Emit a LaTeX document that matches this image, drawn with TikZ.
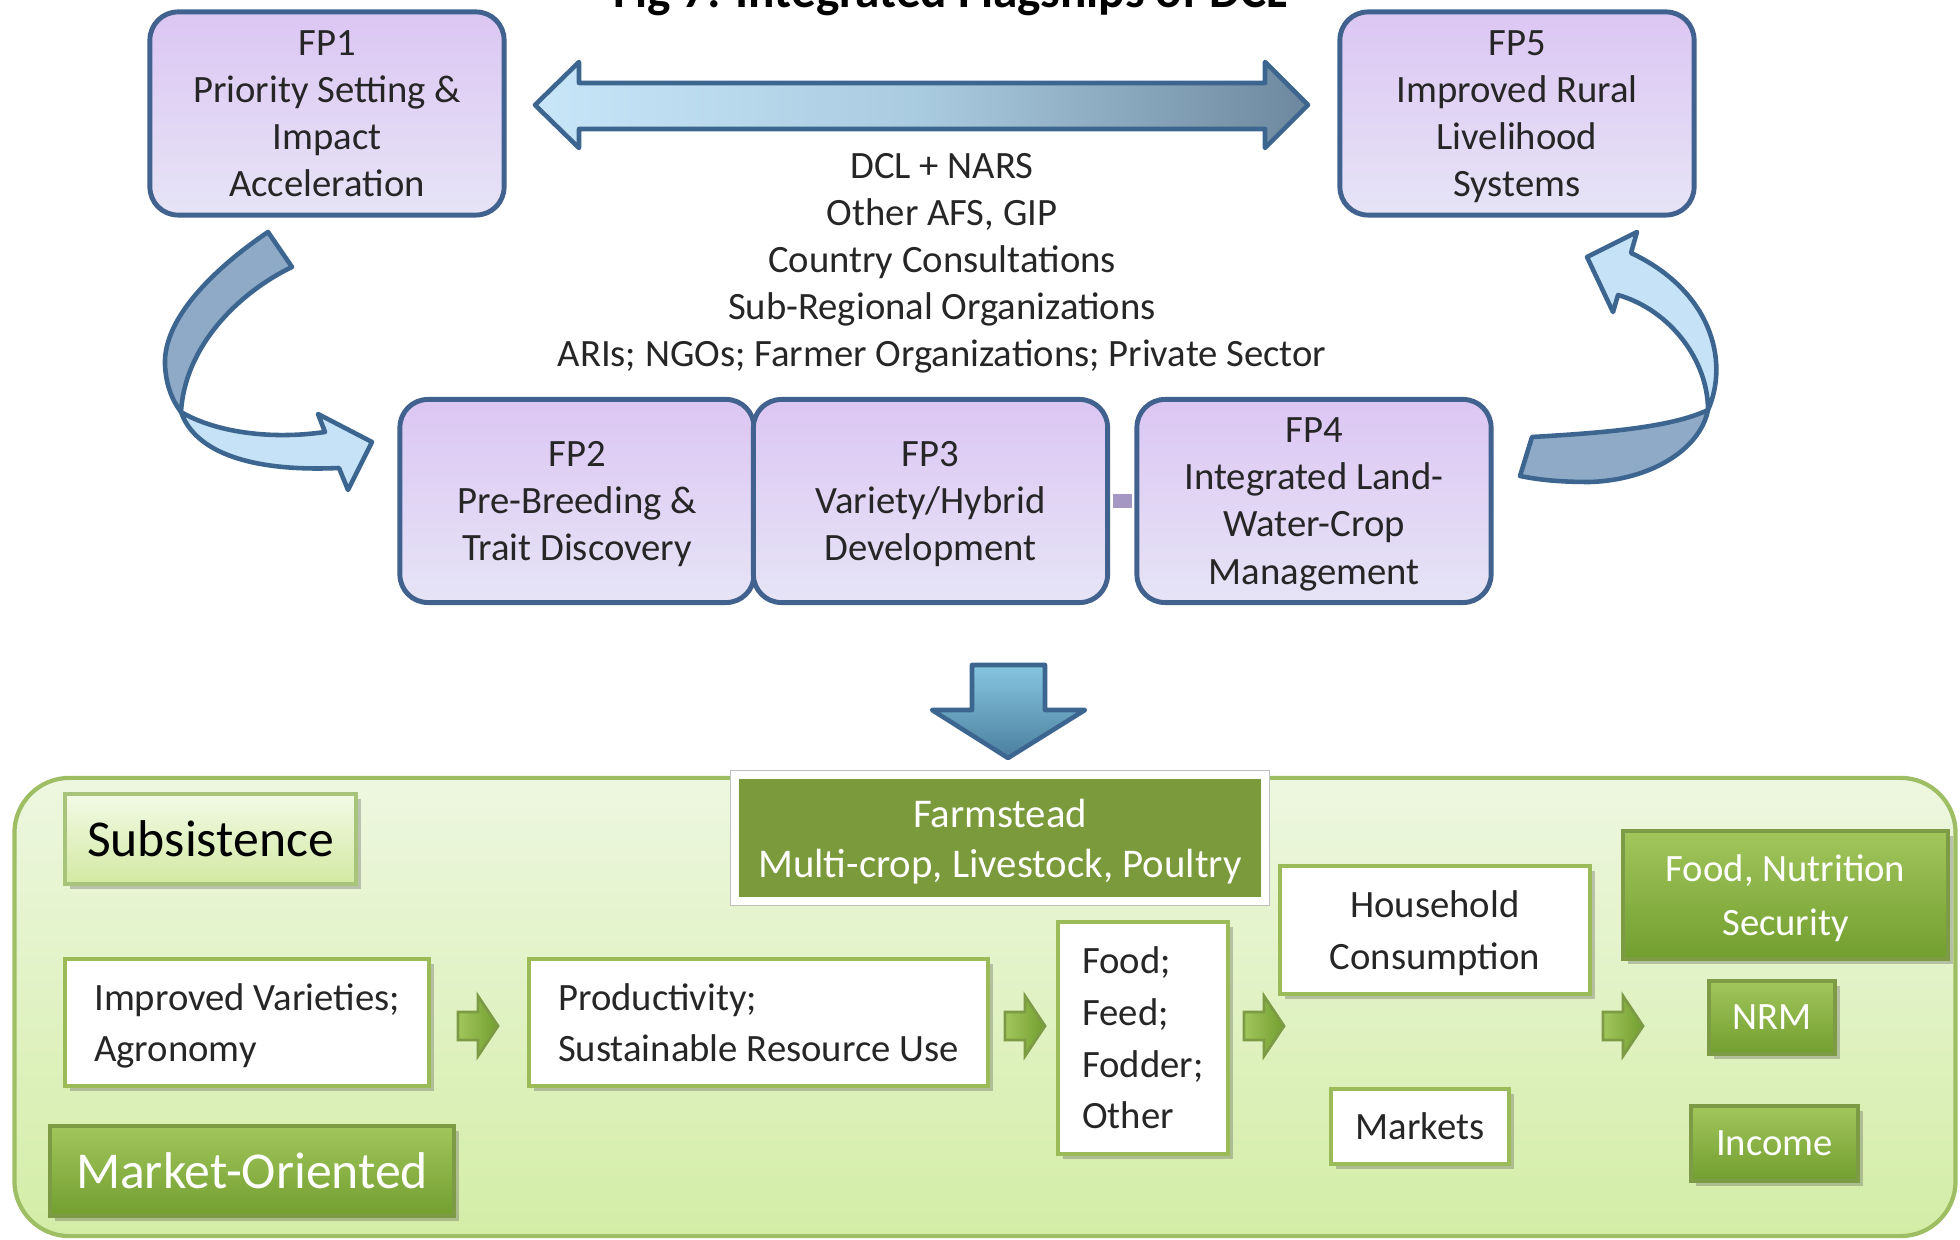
\documentclass[tikz,border=0pt]{standalone}
\usepackage{fontspec}
\setmainfont{Carlito}
\usetikzlibrary{shadows}
\definecolor{fptop}{HTML}{DCC6F3}
\definecolor{fpbot}{HTML}{E6E4F6}
\definecolor{fpborder}{HTML}{41628F}
\definecolor{ribDark}{HTML}{8FAAC6}
\definecolor{ribLight}{HTML}{C5E2F6}
\definecolor{ribBorder}{HTML}{3C6690}
\definecolor{dblL}{HTML}{C8E6F8}
\definecolor{dblM}{HTML}{A9CBE0}
\definecolor{dblR}{HTML}{6D889E}
\definecolor{downTop}{HTML}{86C6DF}
\definecolor{downBot}{HTML}{4B7F9F}
\definecolor{panelTop}{HTML}{EDF7E0}
\definecolor{panelBot}{HTML}{D3EDA6}
\definecolor{panelBorder}{HTML}{9DBE63}
\definecolor{glTop}{HTML}{F3FAE6}
\definecolor{glBot}{HTML}{D2E9A2}
\definecolor{glBorder}{HTML}{A7C47A}
\definecolor{gdTop}{HTML}{A2C65C}
\definecolor{gdBot}{HTML}{729E2F}
\definecolor{gdBorder}{HTML}{7D9B45}
\definecolor{farmG}{HTML}{7A9A3C}
\definecolor{wbBorder}{HTML}{9BBB59}
\definecolor{txt}{HTML}{262626}
\definecolor{linkC}{HTML}{A597C4}
\begin{document}
\begin{tikzpicture}[x=0.01cm,y=-0.01cm,
  fpbox/.style={draw=fpborder, line width=1.4pt, rounded corners=0.28cm,
    top color=fptop, bottom color=fpbot, minimum width=3.54cm, minimum height=2.03cm,
    inner sep=0pt, align=center, font=\fontsize{11}{13.4}\selectfont, text=txt, text depth=0pt},
  ribbon/.style={draw=ribBorder, line width=1.3pt, line join=round},
  shad/.style={drop shadow={shadow xshift=1.5pt, shadow yshift=-1.5pt, opacity=0.3, fill=black!70}},
  wbox/.style={shad, draw=wbBorder, line width=1pt, fill=white, inner sep=0pt,
    font=\fontsize{11}{14.7}\selectfont, text=txt, text depth=0pt},
  glbox/.style={shad, draw=glBorder, line width=1pt, top color=glTop, bottom color=glBot,
    inner sep=0pt, text=black},
  gdbox/.style={shad, draw=gdBorder, line width=1pt, top color=gdTop, bottom color=gdBot,
    inner sep=0pt, text=white, align=center, font=\fontsize{11}{15.3}\selectfont, text depth=0pt},
  garr/.style={draw=gdBorder, line width=0.8pt, left color=gdTop, right color=gdBot},
  garrow/.pic={\path[garr] (0,-14) -- (20,-14) -- (20,-30) -- (40,0) -- (20,30) -- (20,14) -- (0,14) -- cycle;}
]
\useasboundingbox (0,0) rectangle (1960,1240);
\fill[white] (0,0) rectangle (1960,1240);

% title (cut off at the top, as in the source)
\node[font=\bfseries\fontsize{14}{16}\selectfont, anchor=base, text=black, inner sep=0pt] (title) at (950,8) {Fig 7: Integrated Flagships of DCL};

% flagship boxes
\node[fpbox] (fp1) at (327,113.5) {FP1\\Priority Setting \&\\Impact\\Acceleration};
\node[fpbox] (fp5) at (1517,113.5) {FP5\\Improved Rural\\Livelihood\\Systems};
\node[fpbox] (fp2) at (577,501) {FP2\\Pre-Breeding \&\\Trait Discovery};
\node[fpbox] (fp3) at (930.5,501) {FP3\\Variety/Hybrid\\Development};
\node[fpbox] (fp4) at (1314,501) {FP4\\Integrated Land-\\Water-Crop\\Management};
\draw[linkC, line width=3.9pt, shorten <=0.7pt, shorten >=0.7pt] (fp3.east) -- (fp4.west);

% partners text
\node[align=center, font=\fontsize{11}{13.4}\selectfont, text=txt, text depth=0pt] (partners) at (942,260)
  {DCL + NARS\\Other AFS, GIP\\Country Consultations\\Sub-Regional Organizations\\ARIs; NGOs; Farmer Organizations; Private Sector};

% double arrow FP1 <-> FP5
\path[draw=ribBorder, line width=1.3pt, line join=round, left color=dblL, right color=dblR, middle color=dblM]
  (535,105) -- (579,62) -- (579,83) -- (1265,83) -- (1265,62) -- (1308,105)
  -- (1265,148) -- (1265,129) -- (579,129) -- (579,148) -- cycle;

% left curved arrow (FP1 -> FP2)
\path[ribbon, fill=ribDark] (268,232) .. controls (215,268) and (163,318) .. (165,365)
  .. controls (166,385) and (172,400) .. (181,412)
  .. controls (185,345) and (240,292) .. (292,267) -- cycle;
\path[ribbon, fill=ribLight] (181,412) .. controls (215,432) and (270,440) .. (325,432)
  -- (318,414) -- (372,442) -- (348,490) -- (339,468)
  .. controls (250,472) and (195,452) .. (181,412) -- cycle;

% right curved arrow (FP4 -> FP5)
\path[ribbon, fill=ribDark] (1532,437) .. controls (1600,433) and (1670,428) .. (1708,410)
  .. controls (1700,450) and (1650,480) .. (1590,482)
  .. controls (1560,482) and (1540,480) .. (1520,476) -- cycle;
\path[ribbon, fill=ribLight] (1708,410) .. controls (1730,360) and (1710,290) .. (1631,253)
  -- (1637,232) -- (1587,257) -- (1613,312) -- (1618,295)
  .. controls (1670,310) and (1708,360) .. (1708,410) -- cycle;

% down arrow
\path[draw=ribBorder, line width=1.3pt, line join=round, top color=downTop, bottom color=downBot]
  (972,665) -- (1045,665) -- (1045,710) -- (1085,710) -- (1008,758) -- (932,710) -- (972,710) -- cycle;

% bottom panel
\node[draw=panelBorder, line width=1.2pt, rounded corners=0.55cm, top color=panelTop, bottom color=panelBot,
  minimum width=19.4cm, minimum height=4.58cm, inner sep=0pt] (panel) at (985,1007) {};

\node[glbox, minimum width=2.91cm, minimum height=0.9cm, font=\fontsize{14.7}{17}\selectfont] (subs) at (210.5,839) {Subsistence};
\node[gdbox, minimum width=4.04cm, minimum height=0.9cm, font=\fontsize{14.7}{17}\selectfont] (mo) at (252,1171) {Market-Oriented};

\node[shad, fill=farmG, draw=white, line width=0.08cm,
  preaction={draw=black!25, line width=0.095cm},
  minimum width=5.30cm, minimum height=1.26cm, inner sep=0pt, text=white, align=center, text depth=0pt,
  font=\fontsize{11.6}{14.2}\selectfont] (farm) at (1000,838) {Farmstead\\Multi-crop, Livestock, Poultry};

\node[wbox, minimum width=3.64cm, minimum height=1.27cm, align=left] (impv) at (247,1022.5) {Improved Varieties;\\Agronomy};
\node[wbox, minimum width=4.59cm, minimum height=1.27cm, align=left] (prod) at (758.5,1022.5) {Productivity;\\Sustainable Resource Use};
\node[wbox, minimum width=1.70cm, minimum height=2.32cm, align=left] (food) at (1143,1038) {Food;\\Feed;\\Fodder;\\Other};
\node[wbox, minimum width=3.10cm, minimum height=1.28cm, align=center] (hh) at (1435,930) {Household\\Consumption};
\node[wbox, minimum width=1.78cm, minimum height=0.75cm, align=center] (mk) at (1420,1126.5) {Markets};

\node[gdbox, minimum width=3.25cm, minimum height=1.28cm] (fns) at (1785.5,895) {Food, Nutrition\\Security};
\node[gdbox, minimum width=1.26cm, minimum height=0.73cm] (nrm) at (1772,1017.5) {NRM};
\node[gdbox, minimum width=1.67cm, minimum height=0.75cm] (inc) at (1774.5,1143.5) {Income};

\pic at (458,1026) {garrow};
\pic at (1005,1026) {garrow};
\pic at (1244,1026) {garrow};
\pic at (1603,1026) {garrow};
\end{tikzpicture}
\end{document}
